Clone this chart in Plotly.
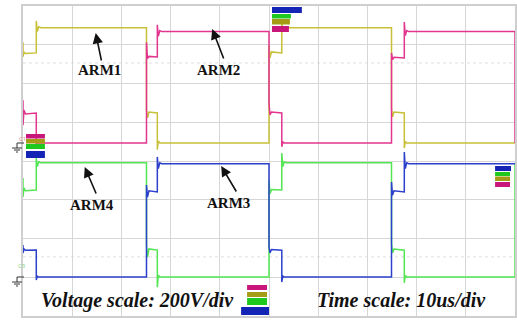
import plotly.graph_objects as go

# Four-channel scope capture: arm voltages of two half-bridge legs.
# Time in microseconds, voltage in volts; 10 us/div, 200 V/div.
TIME_PER_DIV = 10
VOLT_PER_DIV = 200
N_XDIV, N_YDIV = 10, 8

# Channel ground references (volts above the screen bottom)
top_ground = 893     # ARM1 / ARM2
bottom_ground = 201  # ARM3 / ARM4

arm1_t = [0, 0, 0.2, 0.5, 2.7, 2.7, 2.9, 3.2, 3.6, 25.1, 25.1, 25.3, 25.6, 27.3, 27.3, 27.5, 27.8,
          50.0, 50.0, 50.2, 50.5, 52.6, 52.6, 52.8, 53.1, 53.5, 74.9, 74.9, 75.1, 75.4, 77.5, 77.5,
          77.7, 78.0, 100]
arm1_v = [520, 445, 470, 462, 465, 630, 575, 600, 595, 595, 170, 130, 160, 155, -35, 10, 0,
          0, 505, 440, 470, 465, 625, 575, 600, 595, 595, 180, 134, 160, 155, -26,
          8, 0, 0]

arm2_t = [0, 0, 0.2, 0.5, 2.7, 2.7, 2.9, 3.2, 25.1, 25.1, 25.3, 25.6, 27.3, 27.3, 27.5, 27.8, 28.2,
          50.0, 50.0, 50.2, 50.5, 52.6, 52.6, 52.8, 53.1, 74.9, 74.9, 75.1, 75.4, 77.5, 77.5, 77.7,
          78.0, 78.4, 100, 100]
arm2_v = [220, 92, 170, 150, 155, -10, 5, 0, 0, 520, 435, 447, 444, 610, 550, 580, 575,
          575, 206, 145, 160, 155, -20, 5, 0, 0, 465, 430, 442, 439, 624, 555,
          580, 575, 575, 0]

arm4_t = [0, 0, 0.2, 0.5, 2.7, 2.7, 2.9, 3.2, 3.6, 25.1, 25.1, 25.3, 25.6, 27.3, 27.3, 27.5, 27.8,
          50.0, 50.0, 50.2, 50.5, 52.6, 52.6, 52.8, 53.1, 53.5, 74.9, 74.9, 75.1, 75.4, 77.5, 77.5,
          77.7, 78.0, 100, 100]
arm4_v = [511, 413, 460, 445, 449, 614, 570, 595, 590, 590, 165, 103, 145, 139, -52, 10, 0,
          0, 500, 430, 452, 449, 640, 570, 595, 590, 590, 175, 124, 145, 139, -30,
          8, 0, 0, 590]

arm3_t = [0, 0, 0.2, 0.5, 2.7, 2.7, 2.9, 3.2, 25.1, 25.1, 25.3, 25.6, 27.3, 27.3, 27.5, 27.8, 28.2,
          50.0, 50.0, 50.2, 50.5, 52.6, 52.6, 52.8, 53.1, 74.9, 74.9, 75.1, 75.4, 77.5, 77.5, 77.7,
          78.0, 78.4, 100]
arm3_v = [165, 124, 145, 138, 139, -15, 5, 0, 0, 475, 413, 445, 439, 620, 560, 590, 585,
          585, 155, 125, 142, 139, -26, 5, 0, 0, 490, 422, 445, 439, 645, 560,
          590, 585, 585]

channels = [
    ("ARM1", arm1_t, arm1_v, top_ground, "#c8c038"),
    ("ARM2", arm2_t, arm2_v, top_ground, "#e2358e"),
    ("ARM4", arm4_t, arm4_v, bottom_ground, "#52e652"),
    ("ARM3", arm3_t, arm3_v, bottom_ground, "#2c40cc"),
]

W, H = 517, 320
ML, MR, MT, MB = 23, 0, 6, 4
PW, PH = W - ML - MR, H - MT - MB


def px(x):
    """pixel column -> paper x"""
    return (x - ML) / PW


def py(y):
    """pixel row -> paper y"""
    return (H - MB - y) / PH


fig = go.Figure()
for name, t, v, gnd, col in channels:
    fig.add_trace(go.Scatter(
        x=t, y=[gnd + val for val in v], mode="lines", name=name,
        line=dict(color=col, width=1.5), showlegend=False, hoverinfo="skip",
    ))

shapes = []
# faint cursor lines
for yv in (1306, 305):
    shapes.append(dict(type="line", xref="paper", yref="y", x0=0, x1=1, y0=yv, y1=yv,
                       line=dict(color="#dedede", width=1, dash="dot"), layer="below"))


def box(x0, x1, y0, y1, col):
    shapes.append(dict(type="rect", xref="paper", yref="paper",
                       x0=px(x0), x1=px(x1), y0=py(y1), y1=py(y0),
                       fillcolor=col, line=dict(width=0)))


MK_PINK, MK_OLIVE, MK_GREEN, MK_BLUE = "#c8167a", "#a49c14", "#1ec81e", "#1424b4"

# channel indicator stacks
box(26, 45, 134, 138.5, MK_PINK)
box(26, 45, 139, 143.5, MK_OLIVE)
box(26, 45, 144, 149, MK_GREEN)
box(26, 45, 151, 158, MK_BLUE)

box(273, 303, 7, 13, MK_BLUE)
box(273, 292, 14, 18.5, MK_GREEN)
box(273, 291, 19, 24.5, MK_OLIVE)
box(273, 290, 26, 32, MK_PINK)

box(248, 268, 285, 290, MK_PINK)
box(248, 268, 292, 297, MK_OLIVE)
box(248, 268, 298, 305, MK_GREEN)
box(242, 270, 307, 315, MK_BLUE)

box(497, 513, 166, 171, MK_BLUE)
box(497, 512, 172, 176, MK_GREEN)
box(497, 512, 176.5, 181, MK_OLIVE)
box(497, 512, 182, 187, MK_PINK)


def ground(yref_px):
    seg = lambda x0, y0, x1, y1: shapes.append(dict(
        type="line", xref="paper", yref="paper", x0=px(x0), y0=py(y0), x1=px(x1), y1=py(y1),
        line=dict(color="#333333", width=1)))
    seg(17, yref_px, 24, yref_px)
    seg(17, yref_px, 17, yref_px + 5)
    seg(12, yref_px + 5, 22, yref_px + 5)
    seg(14, yref_px + 7, 20, yref_px + 7)
    seg(16, yref_px + 9, 18, yref_px + 9)


ground(143)
ground(277)

annotations = []
# ARM labels with pointer arrows (tip, tail in pixels)
labels = [
    ("ARM1", 100, 70, (96, 33), (102, 62)),
    ("ARM2", 219, 70, (213, 29), (225, 60)),
    ("ARM4", 92, 205, (85, 167), (97, 195)),
    ("ARM3", 229, 203, (222, 166), (238, 193)),
]
for txt, cx, cy, tip, tail in labels:
    annotations.append(dict(
        text="<b>%s</b>" % txt, xref="paper", yref="paper", x=px(cx), y=py(cy),
        showarrow=False, font=dict(family="Liberation Serif", size=15, color="#111111"),
        xanchor="center", yanchor="middle"))
    annotations.append(dict(
        text="", xref="paper", yref="paper", x=px(tip[0]), y=py(tip[1]),
        axref="pixel", ayref="pixel", ax=tail[0] - tip[0], ay=tail[1] - tip[1],
        showarrow=True, arrowhead=2, arrowsize=1.3, arrowwidth=1.6, arrowcolor="#111111"))

# small channel tags near the ground symbols
annotations.append(dict(text="C1", xref="paper", yref="paper", x=px(17), y=py(139),
                        showarrow=False, font=dict(size=6, color="#e08080")))
annotations.append(dict(text="C3", xref="paper", yref="paper", x=px(16), y=py(272),
                        showarrow=False, font=dict(size=6, color="#80d080")))

annotations.append(dict(
    text="<b><i>Voltage scale: 200V/div</i></b>", xref="paper", yref="paper",
    x=px(39), y=py(300), xanchor="left", yanchor="middle", showarrow=False,
    font=dict(family="Liberation Serif", size=20, color="#111111")))
annotations.append(dict(
    text="<b><i>Time scale: 10us/div</i></b>", xref="paper", yref="paper",
    x=px(316), y=py(300), xanchor="left", yanchor="middle", showarrow=False,
    font=dict(family="Liberation Serif", size=20, color="#111111")))

grid = "#d6d6d6"
fig.update_layout(
    width=W, height=H,
    margin=dict(l=ML, r=MR, t=MT, b=MB),
    paper_bgcolor="white", plot_bgcolor="white",
    shapes=shapes, annotations=annotations,
    xaxis=dict(range=[0, N_XDIV * TIME_PER_DIV], dtick=TIME_PER_DIV, showticklabels=False,
               ticks="", showgrid=True, gridcolor=grid, gridwidth=1, zeroline=False,
               showline=True, linecolor="#cfcfcf", linewidth=2, mirror=True),
    yaxis=dict(range=[0, N_YDIV * VOLT_PER_DIV], dtick=VOLT_PER_DIV, showticklabels=False,
               ticks="", showgrid=True, gridcolor=grid, gridwidth=1, zeroline=False,
               showline=True, linecolor="#cfcfcf", linewidth=2, mirror=True),
)

fig.write_html("out.html")
